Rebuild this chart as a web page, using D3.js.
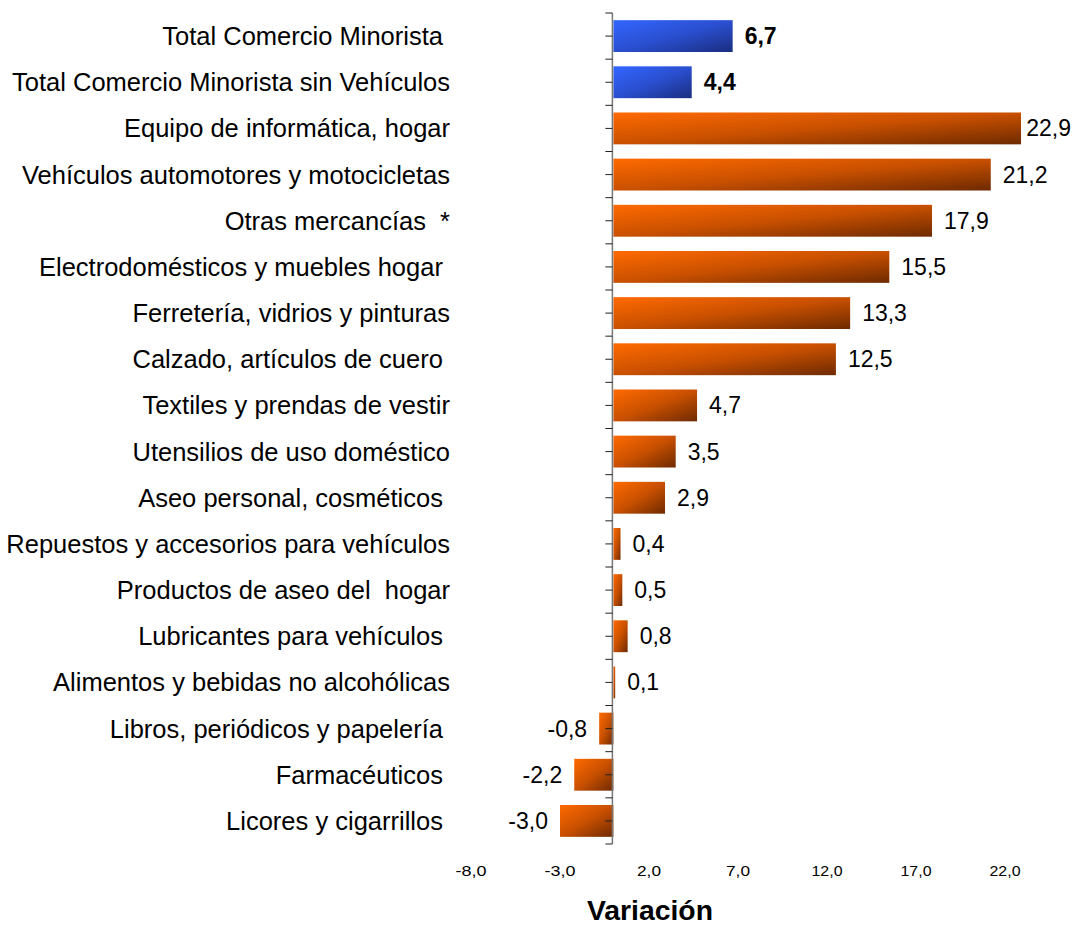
<!DOCTYPE html>
<html>
<head>
<meta charset="utf-8">
<script src="https://d3js.org/d3.v7.min.js"></script>
<style>
    body { margin: 0; background: #fff; }
    svg text { font-family: "Liberation Sans", Arial, sans-serif; white-space: pre; }
</style>
</head>
<body>
<div id="chart"></div>
<script>
// datos del gráfico
const categorias = [
    "Total Comercio Minorista ",
    "Total Comercio Minorista sin Vehículos",
    "Equipo de informática, hogar",
    "Vehículos automotores y motocicletas",
    "Otras mercancías  *",
    "Electrodomésticos y muebles hogar ",
    "Ferretería, vidrios y pinturas",
    "Calzado, artículos de cuero ",
    "Textiles y prendas de vestir",
    "Utensilios de uso doméstico",
    "Aseo personal, cosméticos ",
    "Repuestos y accesorios para vehículos",
    "Productos de aseo del  hogar",
    "Lubricantes para vehículos ",
    "Alimentos y bebidas no alcohólicas",
    "Libros, periódicos y papelería ",
    "Farmacéuticos ",
    "Licores y cigarrillos "
];
const variacion = [6.7, 4.4, 22.9, 21.2, 17.9, 15.5, 13.3, 12.5, 4.7, 3.5, 2.9, 0.4, 0.5, 0.8, 0.1, -0.8, -2.2, -3.0];
const totales = [true, true, false, false, false, false, false, false, false, false, false, false, false, false, false, false, false, false];
const ticksX = [-8, -3, 2, 7, 12, 17, 22];

const width = 1075, height = 926;
const fmt = v => d3.format(".1f")(v).replace(".", ",").replace("−", "-");

const svg = d3.select('#chart').append('svg')
    .attr('width', width)
    .attr('height', height);

const x = d3.scaleLinear().domain([-8, 22]).range([471, 1005]);
const y = d3.scaleBand().domain(categorias).range([13, 844]).paddingInner(0.31).paddingOuter(0.155);

// degradados
const defs = svg.append('defs');
function grad(id, c1, c2, c3) {
    const g = defs.append('linearGradient').attr('id', id)
        .attr('x1', 0).attr('y1', 0).attr('x2', 1).attr('y2', 1);
    g.append('stop').attr('offset', '0%').attr('stop-color', c1);
    g.append('stop').attr('offset', '50%').attr('stop-color', c2);
    g.append('stop').attr('offset', '100%').attr('stop-color', c3);
}
grad('naranja', '#ff6a00', '#c95000', '#6e2a00');
grad('azul', '#3366ff', '#2a4fd0', '#1a2d80');

// barras
svg.append('g')
    .selectAll('rect')
    .data(variacion)
    .enter().append('rect')
    .attr('x', d => x(Math.min(0, d)))
    .attr('y', (d, i) => y(categorias[i]))
    .attr('width', d => Math.abs(x(d) - x(0)))
    .attr('height', y.bandwidth())
    .attr('fill', (d, i) => totales[i] ? 'url(#azul)' : 'url(#naranja)');

// eje vertical
const x0 = x(0) - 1;
const ejeY = svg.append('g');
ejeY.append('line')
    .attr('x1', x0).attr('x2', x0)
    .attr('y1', 13).attr('y2', 844)
    .attr('stroke', '#777').attr('stroke-width', 1.5);
const step = y.step();
const marcas = d3.range(categorias.length * 2 + 1).map(k => 13 + k * step / 2);
ejeY.selectAll('line.tick')
    .data(marcas)
    .enter().append('line')
    .attr('class', 'tick')
    .attr('x1', x0 - 7).attr('x2', x0)
    .attr('y1', d => d).attr('y2', d => d)
    .attr('stroke', '#222').attr('stroke-width', 1);

// etiquetas de categoría
svg.append('g')
    .selectAll('text')
    .data(categorias)
    .enter().append('text')
    .attr('x', 450)
    .attr('y', d => y(d) + y.bandwidth() / 2)
    .attr('dy', '0.35em')
    .attr('text-anchor', 'end')
    .style('font-size', '25.5px')
    .attr('fill', '#000')
    .text(d => d);

// etiquetas de valores
svg.append('g')
    .selectAll('text')
    .data(variacion)
    .enter().append('text')
    .attr('y', (d, i) => y(categorias[i]) + y.bandwidth() / 2)
    .attr('dy', '0.35em')
    .attr('text-anchor', d => d >= 0 ? 'start' : 'end')
    .style('font-size', '23px')
    .style('font-weight', (d, i) => totales[i] ? 'bold' : 'normal')
    .text(d => fmt(d))
    .attr('x', function(d) {
        if (d < 0) return x(d) - 12;
        const w = this.getComputedTextLength();
        return Math.min(x(d) + 12, width - w - 4);
    });

// eje horizontal (solo etiquetas)
svg.append('g')
    .selectAll('text')
    .data(ticksX)
    .enter().append('text')
    .attr('x', d => x(d))
    .attr('y', 876)
    .attr('text-anchor', 'middle')
    .style('font-size', '15px')
    .attr('lengthAdjust', 'spacingAndGlyphs')
    .attr('textLength', d => d >= 10 || d < 0 ? 31 : 24)
    .text(d => fmt(d));

svg.append('text')
    .attr('x', 650)
    .attr('y', 920)
    .attr('text-anchor', 'middle')
    .style('font-size', '27px')
    .style('font-weight', 'bold')
    .attr('lengthAdjust', 'spacingAndGlyphs')
    .attr('textLength', 126)
    .text('Variación');
</script>
</body>
</html>
